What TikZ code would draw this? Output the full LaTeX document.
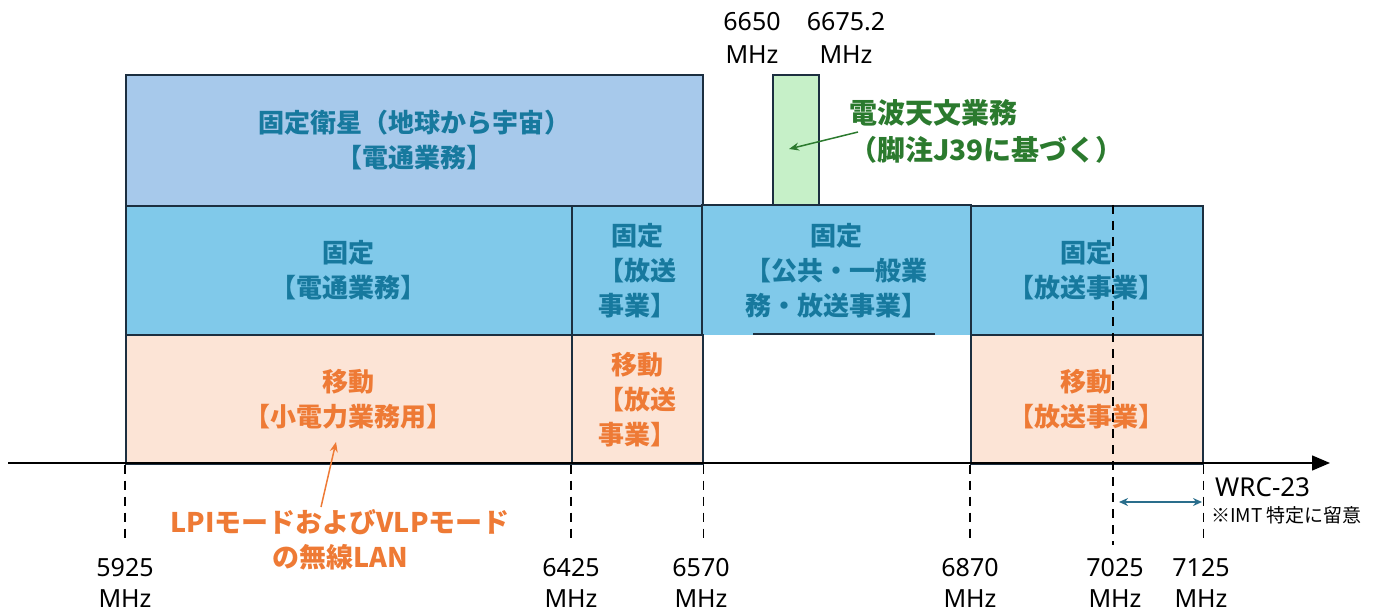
\documentclass[tikz,border=0pt]{standalone}
\usepackage{fontspec}
\setmainfont{Noto Sans}
\newfontfamily\jp{Noto Sans CJK JP}
\usetikzlibrary{arrows.meta}
\definecolor{satc}{HTML}{A7C9EB}
\definecolor{fixc}{HTML}{80C9EA}
\definecolor{mobc}{HTML}{FCE4D6}
\definecolor{radc}{HTML}{C6F0C8}
\definecolor{bordc}{HTML}{1C2F40}
\definecolor{txtblue}{HTML}{17799E}
\definecolor{txtorange}{HTML}{EE7A35}
\definecolor{txtgreen}{HTML}{2B7A2E}
\definecolor{arrblue}{HTML}{2A6E8C}
\tikzset{
  band/.style={draw=bordc, line width=1.6pt, inner sep=0pt, anchor=north west, align=center,
    font=\jp\bfseries\fontsize{26}{35}\selectfont},
  satbox/.style={band, fill=satc, text=txtblue},
  fixbox/.style={band, fill=fixc, text=txtblue},
  mobbox/.style={band, fill=mobc, text=txtorange},
  radbox/.style={band, fill=radc},
  num/.style={font=\fontsize{25}{30}\selectfont, anchor=base, inner sep=0pt},
  guide/.style={line width=1.6pt, dash pattern=on 9pt off 7pt},
  note/.style={font=\jp\bfseries\fontsize{27}{35}\selectfont, align=center, inner sep=0pt},
}
\begin{document}
\begin{tikzpicture}[x=1pt,y=-1pt]
\useasboundingbox (0,0) rectangle (1380,612);
% top row
\node[satbox, minimum width=577pt, minimum height=131pt] (sat) at (125,74) {固定衛星（地球から宇宙）\\【電通業務】};
\node[radbox, minimum width=46pt, minimum height=131pt] (rad) at (772,74) {};
% fixed row
\node[fixbox, minimum width=446pt, minimum height=129pt] (f1) at (125,205) {固定\\【電通業務】};
\node[fixbox, minimum width=131pt, minimum height=129pt] (f2) at (571,205) {固定\\【放送\\事業】};
\node[fixbox, draw=none, minimum width=268pt, minimum height=129pt] (f3) at (702,205) {固定\\【公共・一般業\\務・放送事業】};
\draw[bordc, line width=1.6pt] (f3.south west) -- (f3.north west) -- (f3.north east) -- (f3.south east);
\coordinate (f3a) at (753,334);
\coordinate (f3b) at (935,334);
\draw[bordc, line width=2.4pt] (f3a) -- (f3b);
\node[fixbox, minimum width=232pt, minimum height=129pt] (f4) at (970,205) {固定\\【放送事業】};
% mobile row
\node[mobbox, minimum width=446pt, minimum height=129pt] (m1) at (125,334) {移動\\【小電力業務用】};
\node[mobbox, minimum width=131pt, minimum height=129pt] (m2) at (571,334) {移動\\【放送\\事業】};
\node[mobbox, minimum width=232pt, minimum height=129pt] (m4) at (970,334) {移動\\【放送事業】};
% axis
\coordinate (ax0) at (8,463);
\coordinate (ax1) at (1330,463);
\draw[black, line width=1.5pt, -{Triangle[length=18pt,width=15pt]}] (ax0) -- (ax1);
% guide lines
\draw[guide] (m1.south west) -- ++(0,76);
\draw[guide] (m2.south west) -- ++(0,76);
\draw[guide] (m2.south east) -- ++(0,76);
\draw[guide] (m4.south west) -- ++(0,76);
\draw[guide] (m4.south east) -- ++(0,76);
\coordinate (g7025t) at (1113,205);
\coordinate (g7025b) at (1113,545);
\draw[guide] (g7025t) -- (g7025b);
% WRC double arrow
\coordinate (wa) at (1119,502);
\coordinate (wb) at (1202,502);
\draw[arrblue, line width=1.6pt, {Stealth[length=9pt,width=8pt]}-{Stealth[length=9pt,width=8pt]}] (wa) -- (wb);
\node[font=\fontsize{26}{28}\selectfont, anchor=base west, inner sep=0pt] (wrc) at (1215,496) {WRC-23};
\node[font=\jp\fontsize{19}{21}\selectfont, anchor=base west, inner sep=0pt] (imt) at (1211,522) {※IMT 特定に留意};
% frequency labels
\foreach \f/\x in {5925/125, 6425/571, 6570/701, 6870/970, 7025/1115, 7125/1201}{
  \node[num] (n\f) at (\x,576) {\f};
  \node[num] (u\f) at (\x,607) {MHz};
}
\node[num] (n6650) at (752,31) {6650};
\node[num] (u6650) at (752,64) {MHz};
\node[num] (n6675) at (846,31) {6675.2};
\node[num] (u6675) at (846,64) {MHz};
% radio astronomy note
\node[note, text=txtgreen, align=left, anchor=west, font=\jp\bfseries\fontsize{28}{37}\selectfont] (radnote) at (849,131) {電波天文業務\\（脚注J39に基づく）};
\coordinate (radtail) at (858,132);
\coordinate (radtip) at (789,149);
\draw[txtgreen, line width=1.5pt, -{Stealth[length=10pt,width=8pt]}] (radtail) -- (radtip);
% LAN note
\node[note, text=txtorange] (lan) at (340,540) {LPIモードおよびVLPモード\\の無線LAN};
\coordinate (lantail) at (321,507);
\coordinate (lantip) at (336,442);
\draw[txtorange, line width=1.5pt, -{Stealth[length=10pt,width=8pt]}] (lantail) -- (lantip);
\end{tikzpicture}
\end{document}
